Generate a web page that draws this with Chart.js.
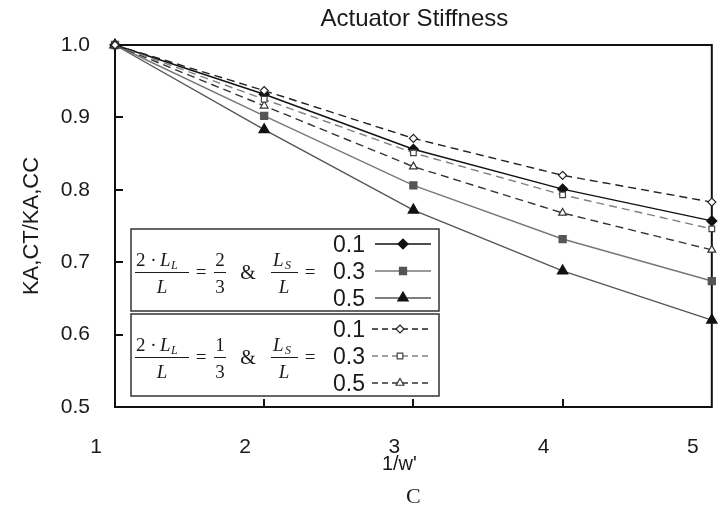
<!DOCTYPE html>
<html>
<head>
<meta charset="utf-8">
<script src="https://cdn.jsdelivr.net/npm/chart.js@4.4.1/dist/chart.umd.min.js"></script>
<style>
  html, body { margin: 0; padding: 0; background: #fff; }
  #wrap { width: 719px; height: 508px; }
</style>
</head>
<body>
<div id="wrap"><canvas id="stiffness" width="719" height="508"></canvas></div>
<script>
/* =====================
   DATA
===================== */

const invW = [1, 2, 3, 4, 5];
const lsRatios = ['0.1', '0.3', '0.5'];

// 2*L_L/L = 2/3
const ll23_ls01 = [1.0, 0.932, 0.856, 0.801, 0.757];
const ll23_ls03 = [1.0, 0.902, 0.806, 0.732, 0.674];
const ll23_ls05 = [1.0, 0.883, 0.772, 0.688, 0.620];

// 2*L_L/L = 1/3
const ll13_ls01 = [1.0, 0.937, 0.871, 0.820, 0.783];
const ll13_ls03 = [1.0, 0.925, 0.851, 0.793, 0.746];
const ll13_ls05 = [1.0, 0.916, 0.832, 0.768, 0.717];

const yTicks = [0.5, 0.6, 0.7, 0.8, 0.9, 1.0];


/* =====================
   STYLES
===================== */

const SANS = "'Liberation Sans', Arial, sans-serif";
const SERIF = "'Liberation Serif', 'Times New Roman', serif";
const INK = '#1a1a1a';

Chart.defaults.font.family = SANS;
Chart.defaults.color = INK;

const solidStyles = [
    { line: '#111', fill: '#111', border: '#111', pointStyle: 'rectRot', radius: 5 },
    { line: '#777', fill: '#555', border: '#555', pointStyle: 'rect', radius: 5 },
    { line: '#555', fill: '#111', border: '#111', pointStyle: 'triangle', radius: 6 }
];

const dashedStyles = [
    { line: '#222', fill: '#fff', border: '#222', pointStyle: 'rectRot', radius: 4 },
    { line: '#808080', fill: '#fff', border: '#444', pointStyle: 'rect', radius: 4 },
    { line: '#333', fill: '#fff', border: '#333', pointStyle: 'triangle', radius: 4.5 }
];

function toPoints(values) {
    return invW.map((x, i) => ({ x: x, y: values[i] }));
}

function makeSet(label, values, st, dashed) {
    return {
        label: label,
        data: toPoints(values),
        borderColor: st.line,
        borderWidth: 1.4,
        borderDash: dashed ? [8, 5] : [],
        pointStyle: st.pointStyle,
        pointRadius: st.radius,
        pointBackgroundColor: st.fill,
        pointBorderColor: st.border,
        pointBorderWidth: 1.2,
        tension: 0,
        fill: false,
        clip: false
    };
}

const datasets = [
    makeSet(lsRatios[0], ll13_ls01, dashedStyles[0], true),
    makeSet(lsRatios[1], ll13_ls03, dashedStyles[1], true),
    makeSet(lsRatios[2], ll13_ls05, dashedStyles[2], true),
    makeSet(lsRatios[0], ll23_ls01, solidStyles[0], false),
    makeSet(lsRatios[1], ll23_ls03, solidStyles[1], false),
    makeSet(lsRatios[2], ll23_ls05, solidStyles[2], false)
];


/* =====================
   PLUGINS
===================== */

// box around the plot with short inward ticks
const framePlugin = {
    id: 'frame',
    beforeDatasetsDraw(chart) {
        const { ctx, chartArea: a, scales: { x, y } } = chart;
        ctx.save();
        ctx.strokeStyle = '#111';
        ctx.lineWidth = 2;
        ctx.strokeRect(a.left, a.top, a.right - a.left, a.bottom - a.top);
        ctx.beginPath();
        y.ticks.forEach(t => {
            if (t.value <= y.min || t.value >= y.max) return;
            const py = Math.round(y.getPixelForValue(t.value));
            ctx.moveTo(a.left, py);
            ctx.lineTo(a.left + 8, py);
        });
        x.ticks.forEach(t => {
            if (t.value <= x.min || t.value >= x.max) return;
            const px = Math.round(x.getPixelForValue(t.value));
            ctx.moveTo(px, a.bottom);
            ctx.lineTo(px, a.bottom - 8);
        });
        ctx.stroke();
        ctx.restore();
    }
};

// title over the plot, x axis name and the panel letter underneath
const captionPlugin = {
    id: 'caption',
    afterDraw(chart) {
        const { ctx, chartArea: a } = chart;
        const cx = (a.left + a.right) / 2;
        ctx.save();
        ctx.fillStyle = INK;
        ctx.textAlign = 'center';
        ctx.textBaseline = 'middle';
        ctx.font = '24px ' + SANS;
        ctx.fillText('Actuator Stiffness', cx + 1, 19);
        ctx.font = '20px ' + SANS;
        ctx.fillText("1/w'", cx - 14, 464);
        ctx.font = '22px ' + SERIF;
        ctx.fillText('C', cx, 497);
        ctx.restore();
    }
};

function text(ctx, str, font, x, y, align) {
    ctx.font = font;
    ctx.textAlign = align || 'left';
    ctx.fillText(str, x, y);
}

function hline(ctx, x1, x2, y) {
    ctx.beginPath();
    ctx.moveTo(x1, y + 0.5);
    ctx.lineTo(x2, y + 0.5);
    ctx.stroke();
}

// 2*L_L/L = a/b & L_S/L =
function drawRatio(ctx, barY, numer) {
    const up = '19px ' + SERIF;
    const it = 'italic 19px ' + SERIF;
    const sub = 'italic 12px ' + SERIF;
    ctx.strokeStyle = INK;
    ctx.lineWidth = 1;

    text(ctx, '2 \u00b7', up, 136, barY - 6);
    text(ctx, 'L', it, 160, barY - 6);
    text(ctx, 'L', sub, 171, barY - 3);
    hline(ctx, 135, 189, barY);
    text(ctx, 'L', it, 162, barY + 21, 'center');

    text(ctx, '=', up, 201, barY + 6, 'center');

    text(ctx, numer, up, 220, barY - 6, 'center');
    hline(ctx, 214, 226, barY);
    text(ctx, '3', up, 220, barY + 21, 'center');

    text(ctx, '&', '20px ' + SERIF, 248, barY + 7, 'center');

    text(ctx, 'L', it, 273, barY - 6);
    text(ctx, 'S', sub, 285, barY - 3);
    hline(ctx, 271, 298, barY);
    text(ctx, 'L', it, 284, barY + 21, 'center');

    text(ctx, '=', up, 310, barY + 6, 'center');
}

function drawSample(ctx, ds, y, dashed) {
    const x1 = dashed ? 372 : 375;
    const x2 = dashed ? 428 : 431;
    const mx = (x1 + x2) / 2;
    ctx.save();
    ctx.strokeStyle = ds.borderColor;
    ctx.lineWidth = 1.4;
    ctx.setLineDash(dashed ? [6, 4] : []);
    ctx.beginPath();
    ctx.moveTo(x1, y);
    ctx.lineTo(x2, y);
    ctx.stroke();
    ctx.setLineDash([]);
    ctx.fillStyle = ds.pointBackgroundColor;
    ctx.strokeStyle = ds.pointBorderColor;
    ctx.lineWidth = ds.pointBorderWidth;
    Chart.helpers.drawPoint(ctx, {
        pointStyle: ds.pointStyle,
        radius: ds.pointRadius,
        rotation: 0,
        borderWidth: ds.pointBorderWidth
    }, mx, y);
    ctx.restore();
}

const ratioLegend = {
    id: 'ratioLegend',
    afterDraw(chart) {
        const ctx = chart.ctx;
        const sets = chart.data.datasets;
        const groups = [
            { top: 229, numer: '2', items: sets.slice(3, 6), dashed: false },
            { top: 314, numer: '1', items: sets.slice(0, 3), dashed: true }
        ];
        ctx.save();
        ctx.textBaseline = 'alphabetic';
        groups.forEach(g => {
            ctx.fillStyle = '#fff';
            ctx.fillRect(131, g.top, 308, 82);
            ctx.strokeStyle = '#333';
            ctx.lineWidth = 1.5;
            ctx.strokeRect(131, g.top, 308, 82);

            ctx.fillStyle = INK;
            drawRatio(ctx, g.top + 43, g.numer);

            g.items.forEach((ds, i) => {
                const rowY = g.top + 15 + i * 27;
                ctx.fillStyle = INK;
                text(ctx, ds.label, '23px ' + SANS, 333, rowY + 8);
                drawSample(ctx, ds, rowY, g.dashed);
            });
        });
        ctx.restore();
    }
};


/* =====================
   CREATE CHART
===================== */

const ctx = document.getElementById('stiffness').getContext('2d');

const chart = new Chart(ctx, {
    type: 'line',
    data: { datasets: datasets },
    options: {
        responsive: false,
        animation: false,
        layout: { padding: { top: 45, right: 6, left: 0, bottom: 0 } },
        plugins: {
            legend: { display: false },
            tooltip: { enabled: false },
            title: { display: false }
        },
        scales: {
            x: {
                type: 'linear',
                min: invW[0],
                max: invW[invW.length - 1],
                grid: { display: false, drawTicks: false },
                border: { display: false },
                ticks: {
                    stepSize: 1,
                    labelOffset: -19,
                    padding: 28,
                    color: INK,
                    font: { size: 21 }
                },
                afterFit: s => {
                    s.height = 101;
                    s.paddingLeft = 0;
                    s.paddingRight = 0;
                }
            },
            y: {
                min: yTicks[0],
                max: yTicks[yTicks.length - 1],
                grid: { display: false, drawTicks: false },
                border: { display: false },
                afterBuildTicks: s => { s.ticks = yTicks.map(v => ({ value: v })); },
                ticks: {
                    padding: 25,
                    color: INK,
                    font: { size: 21 },
                    callback: v => v.toFixed(1)
                },
                title: {
                    display: true,
                    text: 'KA,CT/KA,CC',
                    color: INK,
                    font: { size: 22 },
                    padding: { top: 19, bottom: 0 }
                },
                afterFit: s => {
                    s.width = 115;
                    s.paddingTop = 0;
                    s.paddingBottom = 0;
                }
            }
        }
    },
    plugins: [framePlugin, ratioLegend, captionPlugin]
});
</script>
</body>
</html>
